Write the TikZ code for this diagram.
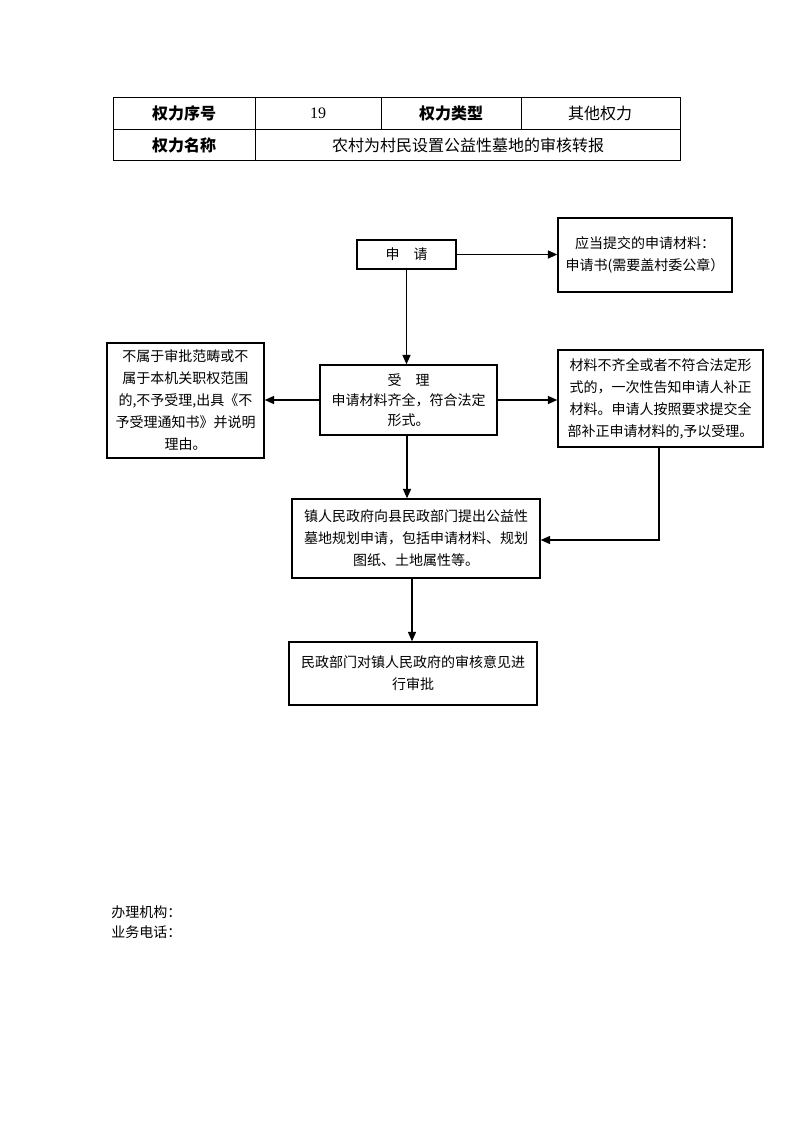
\documentclass[tikz,border=0pt]{standalone}
\usepackage{fontspec}
\setmainfont{Noto Sans CJK SC}
\newfontfamily\serifnum{Liberation Serif}
\usetikzlibrary{arrows.meta,calc}
\tikzset{
  box/.style={draw,line width=1.1pt,inner sep=2pt,align=center,font=\fontsize{10.5}{16.5}\selectfont},
  arr/.style={line width=1.1pt,-{Triangle[length=7pt,width=6pt]}},
  tcell/.style={inner sep=0pt,font=\fontsize{12}{14}\selectfont},
  tline/.style={line width=0.7pt}
}
\begin{document}
\begin{tikzpicture}[x=0.75pt,y=-0.75pt]
\useasboundingbox[fill=white] (0,0) rectangle (793,1122);
% table
\draw[tline] (113,97) rectangle (680,160);
\draw[tline] (113,129) -- (680,129);
\draw[tline] (255,97) -- (255,160);
\draw[tline] (381,97) -- (381,129);
\draw[tline] (521,97) -- (521,129);
\node[tcell,font=\fontsize{12}{14}\selectfont\bfseries] (h1) at (184,113) {权力序号};
\node[tcell,font=\fontsize{12}{14}\selectfont\serifnum] (v1) at (318,113) {19};
\node[tcell,font=\fontsize{12}{14}\selectfont\bfseries] (h2) at (451,113) {权力类型};
\node[tcell] (v2) at (600,113) {其他权力};
\node[tcell,font=\fontsize{12}{14}\selectfont\bfseries] (h3) at (184,145) {权力名称};
\node[tcell] (v3) at (468,145) {农村为村民设置公益性墓地的审核转报};
% flow boxes
\node[box,minimum width=74.25pt,minimum height=21.75pt] (sq) at (406.5,254.5) {申\quad 请};
\node[box,minimum width=130.5pt,minimum height=55.5pt] (mat) at (645,255) {应当提交的申请材料：\\申请书(需要盖村委公章）};
\node[box,minimum width=132.75pt,minimum height=52.5pt,font=\fontsize{10.5}{15}\selectfont] (sl) at (408.5,400) {受\quad 理\\申请材料齐全，符合法定\\形式。};
\node[box,minimum width=117.75pt,minimum height=86.25pt] (rej) at (185.5,400.5) {不属于审批范畴或不\\属于本机关职权范围\\的,不予受理,出具《不\\予受理通知书》并说明\\理由。};
\node[box,minimum width=153.75pt,minimum height=72.75pt] (bz) at (660.5,398.5) {材料不齐全或者不符合法定形\\式的，一次性告知申请人补正\\材料。申请人按照要求提交全\\部补正申请材料的,予以受理。};
\node[box,minimum width=186pt,minimum height=59.25pt] (b3) at (416,538.5) {镇人民政府向县民政部门提出公益性\\墓地规划申请，包括申请材料、规划\\图纸、土地属性等。};
\node[box,minimum width=186pt,minimum height=47.25pt] (b4) at (413,673.5) {民政部门对镇人民政府的审核意见进\\行审批};
% connectors
\draw[arr] (sq.east) -- (sq.east -| mat.west);
\draw[arr] (sq.south) -- (sq.south |- sl.north);
\draw[arr] (sl.west) -- (sl.west -| rej.east);
\draw[arr] (sl.east) -- (sl.east -| bz.west);
\coordinate (c1) at ($(sl.south)+(-1.5,0)$);
\draw[arr] (c1) -- (c1 |- b3.north);
\coordinate (c2) at (659,447);
\coordinate (c3) at (659,540);
\draw[arr] (c2 |- bz.south) -- (c3) -- (c3 -| b3.east);
\coordinate (c4) at (412,578);
\draw[arr] (c4 |- b3.south) -- (c4 |- b4.north);
% footer
\node[anchor=west,inner sep=0pt,font=\fontsize{10.5}{14}\selectfont] (f1) at (111,912) {办理机构：};
\node[anchor=west,inner sep=0pt,font=\fontsize{10.5}{14}\selectfont] (f2) at (111,932) {业务电话：};
\end{tikzpicture}
\end{document}
